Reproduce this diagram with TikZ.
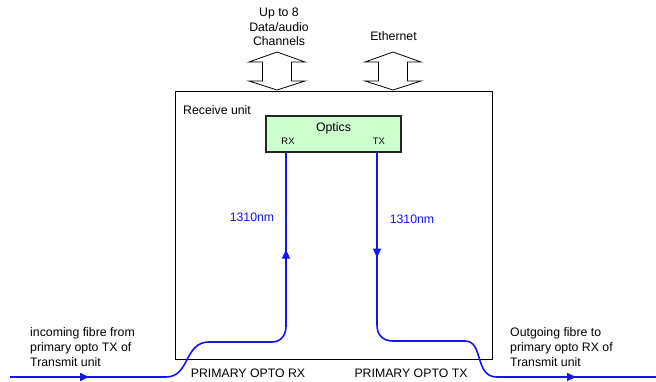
\documentclass[tikz,border=0pt]{standalone}
\usepackage{fontspec}
\setmainfont{Liberation Sans}
\usetikzlibrary{arrows.meta, positioning, decorations.markings}
\definecolor{FibreBlue}{HTML}{1414F5}
\definecolor{OpticsGreen}{HTML}{CCFFCC}
\tikzset{
  unitbox/.style={draw=black, line width=1pt, minimum width=317pt, minimum height=268pt},
  opticsbox/.style={draw=black!85, line width=1.2pt, fill=OpticsGreen,
    minimum width=135pt, minimum height=36pt},
  txt/.style={font=\fontsize{12.3}{14.7}\selectfont, align=left, inner sep=0pt},
  smalltxt/.style={font=\fontsize{9.4}{11}\selectfont, inner sep=0pt},
  bluetxt/.style={txt, text=FibreBlue},
  fibre/.style={draw=FibreBlue, line width=1.6pt},
  fibremarks/.style 2 args={postaction={decorate, decoration={markings,
    mark=at position #1 with {\arrow{Triangle[length=9pt, width=8pt]}},
    mark=at position #2 with {\arrow{Triangle[length=9pt, width=8pt]}}}}},
  portarrow/.style={draw=black, fill=white, line width=0.8pt, line join=miter},
}

\begin{document}
\begin{tikzpicture}[x=1pt, y=-1pt]
    \useasboundingbox (0,0) rectangle (656,381);
    % receive unit and optics
    \node[unitbox] (unit) at (333.5,225) {};
    \node[opticsbox] (optics) at (333.5,134) {};
    \node[txt, below=7pt of optics.north] (opticslbl) {Optics};
    \node[smalltxt] (rxlbl) at (288,141) {RX};
    \node[smalltxt] (txlbl) at (379,141) {TX};
    \node[txt, anchor=west] (unitlbl) at (183,110) {Receive unit};
    % interfaces on top
    \node[txt, align=center] (chanlbl) at (279,27) {Up to 8\\Data/audio\\Channels};
    \node[txt] (ethlbl) at (393.5,36) {Ethernet};
    \foreach \ax in {277,393}
      \draw[portarrow] (\ax,52) -- (\ax+28,62) -- (\ax+14.5,62) -- (\ax+14.5,81)
        -- (\ax+28,81) -- (\ax,90) -- (\ax-28,81) -- (\ax-14.5,81)
        -- (\ax-14.5,62) -- (\ax-28,62) -- cycle;
    % fibres
    \coordinate (rxport) at ([xshift=-47.5pt]optics.south);
    \coordinate (txport) at ([xshift=43.5pt]optics.south);
    \coordinate (fibrein) at (10,377);
    \coordinate (fibreout) at (656,377);
    \draw[fibre, fibremarks={79pt}{-97pt}] (fibrein) -- (166,377)
      .. controls (190,377) and (184,342) .. (209,342) -- (272,342)
      .. controls (281,342) and (286,335) .. (286,326) -- (rxport);
    \draw[fibre, fibremarks={105pt}{-80pt}] (txport) -- (377,325)
      .. controls (377,335) and (383,341) .. (393,341) -- (465,341)
      .. controls (484,341) and (474,377) .. (497,377) -- (fibreout);
    \node[bluetxt] (rxwave) at (252,217) {1310nm};
    \node[bluetxt] (txwave) at (412,219) {1310nm};
    % port and fibre labels
    \node[txt] (rxport lbl) at (248,373) {PRIMARY OPTO RX};
    \node[txt] (txport lbl) at (411,373) {PRIMARY OPTO TX};
    \node[txt, anchor=west] (inlbl) at (30,347) {incoming fibre from\\primary opto TX of\\Transmit unit};
    \node[txt, anchor=west] (outlbl) at (510,347) {Outgoing fibre to\\primary opto RX of\\Transmit unit};
  \end{tikzpicture}
\end{document}
